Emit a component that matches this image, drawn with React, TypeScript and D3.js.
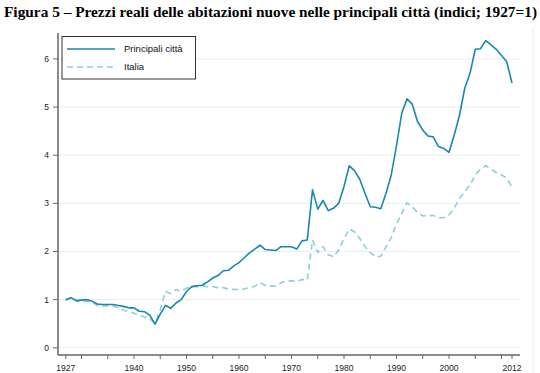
import React, { useEffect, useRef } from "react";
import * as d3 from "d3";

const width = 540;
const height = 373;

const years = d3.range(1927, 2013);

// Principali città
const cittaValues = [
  1.0, 1.04, 0.98, 0.99, 1.0, 0.97, 0.91, 0.9, 0.9, 0.9,
  0.88, 0.86, 0.83, 0.83, 0.76, 0.75, 0.68, 0.49, 0.7, 0.88,
  0.82, 0.93, 1.0, 1.17, 1.27, 1.29, 1.3, 1.37, 1.45, 1.5,
  1.6, 1.61, 1.7, 1.77, 1.87, 1.97, 2.05, 2.13, 2.04, 2.03,
  2.02, 2.1, 2.1, 2.1, 2.05, 2.22, 2.24, 3.28, 2.88, 3.06,
  2.85, 2.9, 3.0, 3.35, 3.78, 3.68, 3.5, 3.21, 2.93, 2.92,
  2.89, 3.21, 3.59, 4.2, 4.87, 5.17, 5.06, 4.7, 4.52, 4.4,
  4.38, 4.18, 4.14, 4.06, 4.42, 4.83, 5.39, 5.7, 6.2, 6.21,
  6.38, 6.29, 6.2, 6.07, 5.94, 5.5,
];

// Italia
const italiaValues = [
  0.98, 1.05, 0.98, 0.95, 0.97, 0.95, 0.88, 0.87, 0.87, 0.87,
  0.83, 0.78, 0.75, 0.72, 0.68, 0.64, 0.6, 0.51, 0.79, 1.17,
  1.13, 1.21, 1.17, 1.24, 1.27, 1.27, 1.29, 1.27, 1.27, 1.25,
  1.25, 1.22, 1.21, 1.21, 1.22, 1.25, 1.28, 1.35, 1.3, 1.28,
  1.28, 1.35, 1.39, 1.39, 1.38, 1.42, 1.4, 2.24, 1.98, 2.1,
  1.93, 1.89, 2.03, 2.27, 2.47, 2.41, 2.27, 2.1, 1.98, 1.89,
  1.9, 2.1, 2.29, 2.57, 2.79, 3.01, 2.93, 2.81, 2.74, 2.74,
  2.75, 2.7, 2.7, 2.76, 2.9, 3.1, 3.24, 3.38, 3.59, 3.71,
  3.78, 3.71, 3.64, 3.59, 3.53, 3.33,
];

const yTicks = [0, 1, 2, 3, 4, 5, 6];
const xTickMarks = [1927, 1930, 1935, 1940, 1945, 1950, 1955, 1960, 1965, 1970, 1975, 1980, 1985, 1990, 1995, 2000, 2005, 2010, 2012];
const xTickLabels = [1927, 1940, 1950, 1960, 1970, 1980, 1990, 2000, 2012];

const seriesData = [
  { title: "Principali città", color: "#1a88ae", dash: null, values: cittaValues },
  { title: "Italia", color: "#8ccfdc", dash: "6,4", values: italiaValues },
];

const title = "Figura 5 – Prezzi reali delle abitazioni nuove nelle principali città (indici; 1927=1)";

const App = () => {
  const chart = useRef<SVGSVGElement>(null);

  useEffect(() => {
    const svg = d3.select(chart.current);
    svg.selectAll("*").remove();

    const x = d3.scaleLinear().domain([1927, 2012]).range([65.75, 512]);
    const y = d3.scaleLinear().domain([0, 6]).range([347.8, 58.9]);
    const axisX = 58;
    const axisY = 355;
    const rightX = 520;

    svg
      .append("rect")
      .attr("width", width)
      .attr("height", height)
      .attr("fill", "#fff");

    // title
    svg
      .append("text")
      .text(title)
      .attr("x", 4)
      .attr("y", 17)
      .attr("font-family", "'Liberation Serif', 'Times New Roman', serif")
      .attr("font-weight", 700)
      .attr("font-size", 14.5)
      .attr("textLength", 533)
      .attr("lengthAdjust", "spacingAndGlyphs")
      .attr("fill", "#000");

    // faint frame line on the right
    svg
      .append("line")
      .attr("x1", 533)
      .attr("x2", 533)
      .attr("y1", 28)
      .attr("y2", 373)
      .attr("stroke", "#f2f2f2")
      .attr("stroke-width", 1.5);

    // grid
    svg
      .append("g")
      .selectAll("line")
      .data(yTicks)
      .join("line")
      .attr("x1", axisX)
      .attr("x2", rightX)
      .attr("y1", (d) => y(d))
      .attr("y2", (d) => y(d))
      .attr("stroke", "#e6eef1")
      .attr("stroke-width", 1);

    const font = "'Liberation Sans', Arial, sans-serif";

    // y axis
    const yAxis = svg.append("g");
    yAxis
      .append("line")
      .attr("x1", axisX)
      .attr("x2", axisX)
      .attr("y1", 33)
      .attr("y2", axisY)
      .attr("stroke", "#666")
      .attr("stroke-width", 1.5);
    yAxis
      .selectAll("line.tick")
      .data(yTicks)
      .join("line")
      .attr("class", "tick")
      .attr("x1", axisX - 5)
      .attr("x2", axisX)
      .attr("y1", (d) => y(d))
      .attr("y2", (d) => y(d))
      .attr("stroke", "#666")
      .attr("stroke-width", 1);
    yAxis
      .selectAll("text")
      .data(yTicks)
      .join("text")
      .text((d) => d)
      .attr("x", axisX - 9)
      .attr("y", (d) => y(d))
      .attr("dy", "0.35em")
      .attr("text-anchor", "end")
      .attr("font-family", font)
      .attr("font-size", 8.5)
      .attr("fill", "#222");

    // x axis
    const xAxis = svg.append("g");
    xAxis
      .append("line")
      .attr("x1", axisX)
      .attr("x2", rightX)
      .attr("y1", axisY)
      .attr("y2", axisY)
      .attr("stroke", "#666")
      .attr("stroke-width", 1.5);
    xAxis
      .selectAll("line.tick")
      .data(xTickMarks)
      .join("line")
      .attr("class", "tick")
      .attr("x1", (d) => x(d))
      .attr("x2", (d) => x(d))
      .attr("y1", axisY)
      .attr("y2", axisY + 4)
      .attr("stroke", "#666")
      .attr("stroke-width", 1);
    xAxis
      .selectAll("text")
      .data(xTickLabels)
      .join("text")
      .text((d) => d)
      .attr("x", (d) => x(d))
      .attr("y", 370.5)
      .attr("text-anchor", "middle")
      .attr("font-family", font)
      .attr("font-size", 8.5)
      .attr("fill", "#222");

    // lines
    const line = d3
      .line<number>()
      .x((d, i) => x(years[i]))
      .y((d) => y(d));

    svg
      .append("g")
      .selectAll("path")
      .data(seriesData.slice().reverse())
      .join("path")
      .attr("d", (d) => line(d.values))
      .attr("fill", "none")
      .attr("stroke", (d) => d.color)
      .attr("stroke-width", 1.6)
      .attr("stroke-dasharray", (d) => d.dash)
      .attr("stroke-linejoin", "round");

    // legend
    const legend = svg.append("g");
    legend
      .append("rect")
      .attr("x", 62)
      .attr("y", 36.5)
      .attr("width", 133.5)
      .attr("height", 42.5)
      .attr("fill", "#fff")
      .attr("stroke", "#333")
      .attr("stroke-width", 1);

    const items = legend
      .selectAll("g")
      .data(seriesData)
      .join("g")
      .attr("transform", (d, i) => `translate(67,${49 + i * 18})`);
    items
      .append("line")
      .attr("x1", 0)
      .attr("x2", 48)
      .attr("stroke", (d) => d.color)
      .attr("stroke-width", 1.6)
      .attr("stroke-dasharray", (d) => d.dash);
    items
      .append("text")
      .text((d) => d.title)
      .attr("x", 57)
      .attr("dy", "0.35em")
      .attr("font-family", font)
      .attr("font-size", 9.5)
      .attr("fill", "#111");
  }, []);

  return (
    <svg
      ref={chart}
      width={width}
      height={height}
      viewBox={`0 0 ${width} ${height}`}
      style={{ position: "absolute", left: 0, top: 0 }}></svg>
  );
};

export default App;
